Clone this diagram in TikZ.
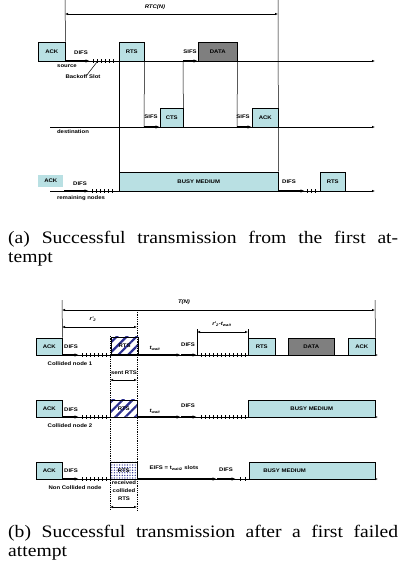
\documentclass[tikz,border=0pt]{standalone}
\usepackage{fontspec}
\usetikzlibrary{positioning,arrows.meta,patterns.meta}
\newfontfamily\diagfont[FakeStretch=1.15]{Liberation Sans}
\newfontfamily\capfont[FakeStretch=1.12]{Liberation Serif}
\definecolor{pktblue}{HTML}{B9E0E3}
\definecolor{pktgray}{HTML}{7F7F7F}
\definecolor{hatchblue}{HTML}{2B2F8F}

\begin{document}
\begin{tikzpicture}[x=1pt, y=-1pt,
  lbl/.style={font=\diagfont\bfseries\fontsize{5.2}{6}\selectfont, inner sep=0pt},
  pkt/.style={draw, fill=pktblue, inner sep=0pt, anchor=south west, minimum height=19pt, minimum width=#1, line width=0.5pt, font=\diagfont\bfseries\fontsize{5.2}{6}\selectfont},
  pkt/.default=26pt,
  axis/.style={-{Latex[length=3pt,width=2.4pt]}, line width=0.6pt},
  wait/.style={-{Latex[length=4.5pt,width=3.6pt]}, line width=1.3pt},
  span/.style={{Latex[length=3pt,width=2.4pt]}-{Latex[length=3pt,width=2.4pt]}, line width=0.5pt},
  vline/.style={line width=0.5pt},
  col/.style={line width=0.5pt, dash pattern=on 1pt off 0.8pt},
  hatched/.style={fill=none, pattern={Lines[angle=45,distance=7pt,line width=2.2pt]}, pattern color=hatchblue},
  dotted fill/.style={fill=none, pattern={Dots[distance=2.6pt,radius=0.7pt]}, pattern color=hatchblue},
  captext/.style={font=\capfont\fontsize{17.5}{20}\selectfont, inner sep=0pt, anchor=base west}]
\useasboundingbox (0,0) rectangle (403,582);

% (a) first attempt succeeds
\node[pkt=27pt] (aack) at (38,61) {ACK};
\node[pkt=25pt] (arts) at (119,61) {RTS};
\node[pkt=23pt] (acts) at (160,127) {CTS};
\node[pkt=39pt, fill=pktgray] (adata) at (198,61) {DATA};
\node[pkt=26pt] (aack2) at (252,127) {ACK};
\node[pkt=25pt, draw=none, minimum height=12pt] (rack) at (38,187) {ACK};
\node[pkt=159pt] (abusy) at (119,191) {BUSY MEDIUM};
\node[pkt=25pt] (arts2) at (320,191) {RTS};

\coordinate (rtcL) at (65,0);
\coordinate (rtcR) at (278,0);
\coordinate (rtcA) at (65,14);
\coordinate (rtcB) at (278,14);
\draw[vline] (rtcL) -- (aack.north east);
\draw[vline] (rtcR) -- (abusy.north east);
\draw[span] (rtcA) -- (rtcB);
\node[lbl, font=\diagfont\bfseries\itshape\fontsize{5.2}{6}\selectfont] (rtc) at (155,7) {RTC(N)};

\coordinate (srcL) at (50,61);
\coordinate (srcR) at (375,61);
\coordinate (dstL) at (50,127);
\coordinate (dstR) at (375,127);
\coordinate (remL) at (50,191);
\coordinate (remR) at (375,191);
\draw[axis] (srcL) -- (srcR);
\draw[axis] (dstL) -- (dstR);
\draw[axis] (remL) -- (remR);

\coordinate (difsA) at (90,61);
\draw[wait] (aack.south east) -- (difsA);
\foreach \x in {93,97,...,113} \draw[vline] (\x,59) -- (\x,63);
\coordinate (remD0) at (64,191);
\coordinate (remD1) at (89,191);
\draw[wait] (remD0) -- (remD1);
\foreach \x in {92,96,...,112} \draw[vline] (\x,189) -- (\x,193);

\coordinate (sifs1) at (144,127);
\coordinate (sifs2) at (183,61);
\coordinate (sifs3) at (237,127);
\draw[vline] (arts.south west) -- (abusy.north west);
\draw[vline] (arts.south east) -- (sifs1);
\draw[wait] (sifs1) -- (acts.south west);
\draw[vline] (acts.south east) -- (sifs2);
\draw[wait] (sifs2) -- (adata.south west);
\draw[vline] (adata.south east) -- (sifs3);
\draw[wait] (sifs3) -- (aack2.south west);

\coordinate (difsE) at (305,191);
\draw[wait] (abusy.south east) -- (difsE);
\foreach \x in {307,311,315} \draw[vline] (\x,189) -- (\x,193);

\node[lbl] (adifs) at (81,53) {DIFS};
\node[lbl] (src) at (67,66) {source};
\node[lbl] (bslot) at (83,77) {Backoff Slot};
\coordinate (slotA) at (97,62);
\draw[vline] ([xshift=4pt]bslot.north) -- (slotA);
\node[lbl] (asifs2) at (190,52) {SIFS};
\node[lbl] (asifs1) at (151,117) {SIFS};
\node[lbl] (asifs3) at (243,117) {SIFS};
\node[lbl] (dst) at (73,132) {destination};
\node[lbl] (rdifs) at (80,184) {DIFS};
\node[lbl] (rem) at (81,198) {remaining nodes};
\node[lbl] (edifs) at (289,182) {DIFS};

\node[captext] (capa1) at (8,243) {\makebox[390pt][s]{(a) Successful transmission from the first at-}};
\node[captext] (capa2) at (8,262) {tempt};

% (b) first attempt collides
\node[pkt=26pt, minimum height=17pt] (back1) at (36,355) {ACK};
\node[pkt=27pt, minimum height=17pt, hatched] (brts1) at (110,355) {RTS};
\node[pkt=27pt, minimum height=17pt] (brts1b) at (248,355) {RTS};
\node[pkt=46pt, minimum height=17pt, fill=pktgray] (bdata) at (288,355) {DATA};
\node[pkt=27pt, minimum height=17pt] (back1b) at (348,355) {ACK};

\node[pkt=26pt, minimum height=17pt] (back2) at (36,417) {ACK};
\node[pkt=27pt, minimum height=17pt, hatched] (brts2) at (110,417) {RTS};
\node[pkt=127pt, minimum height=17pt] (bbusy2) at (248,417) {BUSY MEDIUM};

\node[pkt=26pt, minimum height=17pt] (back3) at (36,479) {ACK};
\node[pkt=27pt, minimum height=17pt, dotted fill] (brts3) at (110,479) {RTS};
\node[pkt=126pt, minimum height=17pt, text width=98pt, inner xsep=14pt, align=left] (bbusy3) at (249,479) {BUSY MEDIUM};

\coordinate (tnL) at (62,300);
\coordinate (tnR) at (375,300);
\coordinate (tnA) at (62,310);
\coordinate (tnB) at (375,310);
\coordinate (tauB) at (137,327);
\coordinate (tauA) at (62,327);
\draw[vline] (tnL) -- (back1.north east);
\draw[vline] (tnR) -- (back1b.north east);
\draw[span] (tnA) -- (tnB);
\draw[span] (tauA) -- (tauB);
\node[lbl, font=\diagfont\bfseries\itshape\fontsize{5.2}{6}\selectfont] (tn) at (184,302) {T(N)};
\node[lbl, font=\diagfont\bfseries\itshape\fontsize{5.2}{6}\selectfont] (tau) at (93,319) {r'\textsubscript{2}};

\coordinate (colAbot) at (110,510);
\coordinate (colBtop) at (137,310);
\coordinate (colBbot) at (137,510);
\draw[col] (brts1.north west) -- (colAbot);
\draw[col] (colBtop) -- (colBbot);

\coordinate (sentA) at (110,380);
\coordinate (sentB) at (137,380);
\draw[span] (sentA) -- (sentB);
\coordinate (recvA) at (110,507);
\coordinate (recvB) at (137,507);
\draw[span] (recvA) -- (recvB);

% row 1
\coordinate (b1d) at (79,355);
\coordinate (b1w) at (181,355);
\coordinate (b1e) at (197,355);
\coordinate (b1end) at (378,355);
\draw[axis] (back1.south east) -- (b1end);
\draw[wait] (back1.south east) -- (b1d);
\foreach \x in {82,86,...,106} \draw[vline] (\x,353) -- (\x,357);
\draw[wait] (brts1.south east) -- (b1w);
\draw[wait] (b1w) -- (b1e);
\foreach \x in {201,205,...,245} \draw[vline] (\x,353) -- (\x,357);
\coordinate (twA) at (197,329);
\coordinate (twB) at (248,329);
\coordinate (twA1) at (197,332);
\coordinate (twB1) at (248,332);
\draw[vline] (twA) -- (b1e);
\draw[vline] (twB) -- (brts1b.north west);
\draw[span] (twA1) -- (twB1);
\node[lbl, font=\diagfont\bfseries\itshape\fontsize{5.2}{6}\selectfont] (tw) at (222,324) {r'\textsubscript{2}-t\textsubscript{wait}};
\node[lbl] (b1difs) at (71,347) {DIFS};
\node[lbl] (b1wait) at (155,348) {\itshape t\textsubscript{wait}};
\node[lbl] (b1difs2) at (188,345) {DIFS};
\node[lbl] (coll1) at (70,364) {Collided node 1};
\node[lbl] (sent) at (124,373) {sent RTS};

% row 2
\coordinate (b2d) at (79,417);
\coordinate (b2w) at (181,417);
\coordinate (b2e) at (197,417);
\coordinate (b2end) at (378,417);
\draw[axis] (back2.south east) -- (b2end);
\draw[wait] (back2.south east) -- (b2d);
\foreach \x in {82,86,...,106} \draw[vline] (\x,415) -- (\x,419);
\draw[wait] (brts2.south east) -- (b2w);
\draw[wait] (b2w) -- (b2e);
\foreach \x in {201,205,...,245} \draw[vline] (\x,415) -- (\x,419);
\node[lbl] (b2difs) at (71,410) {DIFS};
\node[lbl] (b2wait) at (155,411) {\itshape t\textsubscript{wait}};
\node[lbl] (b2difs2) at (188,406) {DIFS};
\node[lbl] (coll2) at (70,426) {Collided node 2};

% row 3
\coordinate (b3d) at (79,479);
\coordinate (b3w) at (217,479);
\coordinate (b3e) at (236,479);
\coordinate (b3end) at (378,479);
\draw[axis] (back3.south east) -- (b3end);
\draw[wait] (back3.south east) -- (b3d);
\foreach \x in {82,86,...,106} \draw[vline] (\x,477) -- (\x,481);
\draw[wait] (brts3.south east) -- (b3w);
\draw[wait] (b3w) -- (b3e);
\foreach \x in {240,245} \draw[vline] (\x,477) -- (\x,481);
\node[lbl] (b3difs) at (71,471) {DIFS};
\node[lbl] (eifs) at (174,468) {EIFS = t\textsubscript{wait2} slots};
\node[lbl] (b3difs2) at (226,470) {DIFS};
\node[lbl] (noncoll) at (75,488) {Non Collided node};
\node[lbl, align=center, font=\diagfont\bfseries\fontsize{5.2}{8}\selectfont] (recv) at (124,491) {received\\collided\\RTS};

\node[captext] (capb1) at (8,537) {\makebox[390pt][s]{(b) Successful transmission after a first failed}};
\node[captext] (capb2) at (8,556) {attempt};
\end{tikzpicture}
\end{document}
